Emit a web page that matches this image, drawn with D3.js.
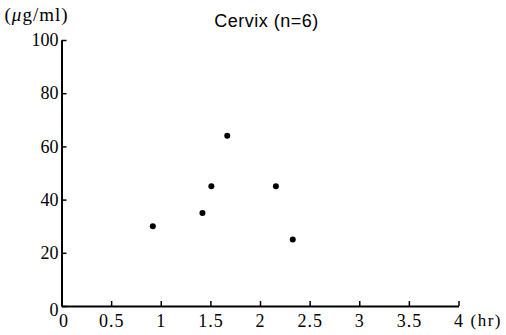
<!DOCTYPE html>
<html>
<head>
<meta charset="utf-8">
<script src="https://cdn.jsdelivr.net/npm/d3@7"></script>
<style>
  body { margin: 0; background: #fff; }
  .tick text { font-family: "Liberation Serif", "Times New Roman", serif; }
</style>
</head>
<body>
<div id="chart"></div>
<script>
// data
var hours = [0.92, 1.42, 1.51, 1.67, 2.16, 2.33];
var conc = [30, 35, 45, 64, 45, 25];
var xTicks = [0, 0.5, 1, 1.5, 2, 2.5, 3, 3.5, 4];
var xTickLabels = ["0", "0.5", "1", "1.5", "2", "2.5", "3", "3.5", "4"];
var yTicks = [0, 20, 40, 60, 80, 100];

var W = 506, H = 335;
var margin = {top: 40, right: 47.5, bottom: 29, left: 61.5},
    width = W - margin.left - margin.right,
    height = H - margin.top - margin.bottom;

var svg = d3.select("#chart")
  .append("svg")
    .attr("width", W)
    .attr("height", H)
  .append("g")
    .attr("transform", "translate(" + margin.left + "," + margin.top + ")");

var x = d3.scaleLinear().domain([0, 4]).range([0, width]);
var y = d3.scaleLinear().domain([0, 100]).range([height, 0]);

// X axis, ticks pointing up
var xAxis = svg.append("g")
  .attr("transform", "translate(0," + height + ")")
  .call(d3.axisBottom(x)
    .tickValues(xTicks)
    .tickFormat(function(d, i) { return xTickLabels[i]; })
    .tickSizeInner(-5)
    .tickSizeOuter(0)
    .tickPadding(8));
xAxis.select(".domain").attr("stroke-width", 2);
xAxis.selectAll(".tick line").attr("stroke-width", 1.5);
xAxis.selectAll(".tick text")
  .attr("font-size", 18)
  .attr("letter-spacing", 1)
  .attr("fill", "#000");
xAxis.selectAll(".tick text").filter(function(d) { return d === 0; })
  .attr("dx", 2);

// Y axis, ticks pointing right
var yAxis = svg.append("g")
  .call(d3.axisLeft(y)
    .tickValues(yTicks)
    .tickSizeInner(-5)
    .tickSizeOuter(0)
    .tickPadding(3));
yAxis.select(".domain").attr("stroke-width", 2);
yAxis.selectAll(".tick line").attr("stroke-width", 1.5);
yAxis.selectAll(".tick text")
  .attr("font-size", 18)
  .attr("fill", "#000");
// the "0" sits a bit under the corner
yAxis.selectAll(".tick text").filter(function(d) { return d === 0; })
  .attr("dy", "0.5em");

// points
svg.selectAll("circle.pt")
  .data(hours)
  .enter()
  .append("circle")
    .attr("class", "pt")
    .attr("cx", function(d) { return x(d); })
    .attr("cy", function(d, i) { return y(conc[i]); })
    .attr("r", 3)
    .attr("fill", "#000");

// labels
svg.append("text")
  .attr("x", 205)
  .attr("y", -13)
  .attr("text-anchor", "middle")
  .attr("font-family", "Liberation Sans, Arial, sans-serif")
  .attr("font-size", 18)
  .attr("letter-spacing", 0.5)
  .text("Cervix (n=6)");

var unit = svg.append("text")
  .attr("x", -57)
  .attr("y", -19)
  .attr("font-family", "Liberation Serif, serif")
  .attr("font-size", 19)
  .attr("letter-spacing", 1);
unit.append("tspan").text("(");
unit.append("tspan").attr("font-style", "italic").text("\u03bc");
unit.append("tspan").text("g/ml)");

svg.append("text")
  .attr("x", width + 12)
  .attr("y", height + 20)
  .attr("font-family", "Liberation Serif, serif")
  .attr("font-size", 17)
  .attr("letter-spacing", 1.5)
  .text("(hr)");
</script>
</body>
</html>
